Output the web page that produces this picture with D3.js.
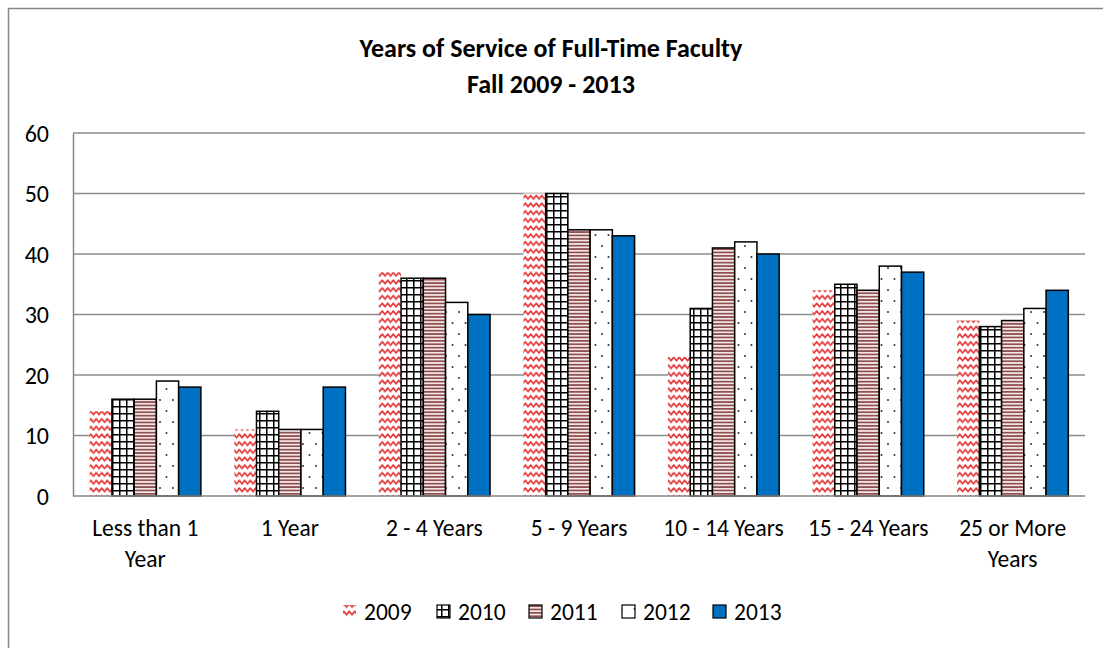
<!DOCTYPE html>
<html><head><meta charset="utf-8">
<script src="https://cdn.jsdelivr.net/npm/d3@7"></script>
<style>body{margin:0;background:#fff}svg{display:block}text{font-family:Carlito,Calibri,Lato,sans-serif}</style>
</head><body><svg id="c" width="1103" height="648"></svg>
<script>
const categories = [["Less than 1","Year"],["1 Year"],["2 - 4 Years"],["5 - 9 Years"],["10 - 14 Years"],["15 - 24 Years"],["25 or More","Years"]];
const seriesNames = ["2009","2010","2011","2012","2013"];
const v2009 = [14,11,37,50,23,34,29];
const v2010 = [16,14,36,50,31,35,28];
const v2011 = [16,11,36,44,41,34,29];
const v2012 = [19,11,32,44,42,38,31];
const v2013 = [18,18,30,43,40,37,34];
const yTicks = [0,10,20,30,40,50,60];
const titleLines = ["Years of Service of Full-Time Faculty","Fall 2009 - 2013"];
const seriesValues = [v2009,v2010,v2011,v2012,v2013];

const svg = d3.select("#c");
const defs = svg.append("defs");
// patterns
const p0 = defs.append("pattern").attr("id","p2009").attr("patternUnits","userSpaceOnUse").attr("width",11).attr("height",7.7);
p0.append("rect").attr("width",11).attr("height",7.7).attr("fill","#fff");
p0.append("path").attr("d","M-2.75,3.5 L0,6.5 L2.75,3 L5.5,6.5 L8.25,3 L11,6.5 L13.75,3").attr("fill","none").attr("stroke","#e53c3c").attr("stroke-width",1.7).attr("stroke-linejoin","round");
const p1 = defs.append("pattern").attr("id","p2010").attr("patternUnits","userSpaceOnUse").attr("width",7).attr("height",7);
p1.append("rect").attr("width",7).attr("height",7).attr("fill","#fff");
p1.append("path").attr("d","M0,0.75H7M0.75,0V7").attr("stroke","#000").attr("stroke-width",1.5);
const p2 = defs.append("pattern").attr("id","p2011").attr("patternUnits","userSpaceOnUse").attr("width",4).attr("height",3.4);
p2.append("rect").attr("width",4).attr("height",3.4).attr("fill","#f4e6e6");
p2.append("rect").attr("width",4).attr("height",1.7).attr("fill","#8e4f4f");
const p3 = defs.append("pattern").attr("id","p2012").attr("patternUnits","userSpaceOnUse").attr("width",13).attr("height",22);
p3.append("rect").attr("width",13).attr("height",22).attr("fill","#fff");
p3.append("circle").attr("cx",4).attr("cy",4).attr("r",1).attr("fill","#333");
p3.append("circle").attr("cx",10.5).attr("cy",15).attr("r",1).attr("fill","#333");
const fills = ["url(#p2009)","url(#p2010)","url(#p2011)","url(#p2012)","#0070c0"];
const strokes = ["none","#000","#000","#000","#000"];

// frame
svg.append("rect").attr("x",8.5).attr("y",8.5).attr("width",1110).attr("height",660).attr("fill","#fff").attr("stroke","#868686").attr("stroke-width",1.5);

const L=73, R=1085, T=133, B=496;
const x0 = d3.scaleBand().domain(d3.range(categories.length)).range([L,R]).paddingInner(0).paddingOuter(0);
const barW = x0.bandwidth()/6.5;
const x1 = d3.scaleBand().domain(d3.range(seriesNames.length)).range([barW*0.75, barW*5.75]).padding(0);
const y = d3.scaleLinear().domain([0,60]).range([B,T]);

// gridlines
svg.append("g").selectAll("line").data(yTicks.filter(d=>d>0)).join("line")
  .attr("x1",L).attr("x2",R).attr("y1",d=>y(d)).attr("y2",d=>y(d)).attr("stroke","#8c8c8c").attr("stroke-width",1.3);

// bars
seriesValues.forEach((vals,si)=>{
  svg.append("g").selectAll("rect").data(vals).join("rect")
    .attr("x",(d,i)=>x0(i)+x1(si)).attr("width",x1.bandwidth())
    .attr("y",d=>y(d)).attr("height",d=>B-y(d))
    .attr("fill",fills[si]).attr("stroke",strokes[si]).attr("stroke-width",1.5);
});

// axes
const yAxis = svg.append("g").attr("transform",`translate(${L},0)`).call(d3.axisLeft(y).tickValues(yTicks).tickSize(0).tickPadding(24));
yAxis.select(".domain").attr("stroke","#868686").attr("stroke-width",1.5);
yAxis.selectAll("text").attr("font-size",24).attr("fill","#000").attr("dy","0.35em");
svg.append("line").attr("x1",L).attr("x2",R).attr("y1",B).attr("y2",B).attr("stroke","#868686").attr("stroke-width",1.5);

// x labels
const xl = svg.append("g");
categories.forEach((lines,i)=>{
  const t = xl.append("text").attr("x",x0(i)+x0.bandwidth()/2).attr("y",536).attr("text-anchor","middle").attr("font-size",23.5);
  lines.forEach((ln,j)=>t.append("tspan").attr("x",x0(i)+x0.bandwidth()/2).attr("dy",j?31:0).text(ln));
});

// title
titleLines.forEach((ln,j)=>svg.append("text").attr("x",551).attr("y",57+j*36).attr("text-anchor","middle").attr("font-size",26).attr("font-weight","bold").text(ln));

// legend
const legX = [343,437,529,622,713];
seriesNames.forEach((n,i)=>{
  svg.append("rect").attr("x",legX[i]).attr("y",605).attr("width",13).attr("height",13).attr("fill",fills[i]).attr("stroke",strokes[i]).attr("stroke-width",1.2);
  svg.append("text").attr("x",legX[i]+21).attr("y",620).attr("font-size",23.5).text(n);
});
</script></body></html>
